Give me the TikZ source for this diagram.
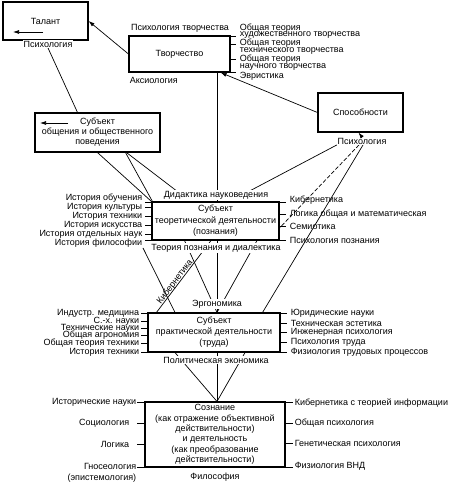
\documentclass[tikz,border=0pt]{standalone}
\usepackage{fontspec}
\setmainfont{Liberation Sans}
\usetikzlibrary{arrows.meta}
\pgfdeclarelayer{background}
\pgfsetlayers{background,main}

\newcommand{\lblfont}{\fontsize{9}{10}\selectfont}

\tikzset{
  box/.style={draw, line width=1.1pt, inner sep=0pt, align=center, font=\lblfont},
  lbl/.style={inner sep=0.6pt, font=\lblfont},
  wlbl/.style={lbl, fill=white},
  link/.style={line width=0.7pt},
  arr/.style={link, -{Latex[length=6pt,width=4pt]}},
  tick/.style={line width=0.8pt},
}

\begin{document}
\begin{tikzpicture}[x=1pt, y=-1pt]
  \useasboundingbox (0,0) rectangle (456,490);

  % Boxes
  \node[box, minimum width=85pt, minimum height=38pt] (talant) at (45.5,21) {Талант};
  \node[box, minimum width=101pt, minimum height=36pt] (tvorch) at (179.5,54) {Творчество};
  \node[box, minimum width=85pt, minimum height=39pt] (sposob) at (360.5,112.5) {Способности};
  \node[box, minimum width=125pt, minimum height=39pt] (obshch) at (97.5,132.5)
    {Субъект\\общения и общественного\\поведения};
  \node[box, minimum width=127pt, minimum height=38pt, font=\fontsize{9}{11.5}\selectfont] (teor) at (215.5,221)
    {Субъект\\теоретической деятельности\\(познания)};
  \node[box, minimum width=132pt, minimum height=39pt, font=\fontsize{9}{11}\selectfont] (prakt) at (214,332.5)
    {Субъект\\практической деятельности\\(труда)};
  \node[box, minimum width=140pt, minimum height=65pt, font=\fontsize{9}{10.4}\selectfont] (soznan) at (215,434.5)
    {Сознание\\(как отражение объективной\\действительности)\\и деятельность\\(как преобразование\\действительности)};

  % Arrows inside boxes
  \coordinate (tal-a) at (43,32);
  \coordinate (tal-b) at (13,32);
  \draw[arr] (tal-a) -- (tal-b);
  \coordinate (obs-a) at (68,123);
  \coordinate (obs-b) at (40,123);
  \draw[arr] (obs-a) -- (obs-b);

  % Labels at the top
  \node[wlbl] (psy-tal) at (48,44) {Психология};
  \node[lbl] (psy-tvo) at (180,28) {Психология творчества};
  \node[lbl, anchor=west] (aksio) at (129,80) {Аксиология};
  \foreach \t/\y [count=\i] in {Общая теория/28, художественного творчества/35,
      Общая теория/43, технического творчества/51, Общая теория/59,
      научного творчества/67, Эвристика/76}
    \node[lbl, anchor=west] (tvo-r\i) at (239,\y) {\t};
  \node[wlbl] (psy-sp) at (362,141) {Психология};

  % Labels of the theoretical subject
  \node[wlbl] (didakt) at (216,195) {Дидактика науковедения};
  \node[wlbl] (teorpozn) at (216,248) {Теория познания и диалектика};
  \foreach \t/\y [count=\i] in {История обучения/198, История культуры/207,
      История техники/216, История искусства/225, История отдельных наук/234,
      История философии/243}
    \node[lbl, anchor=east] (teor-l\i) at (143,\y) {\t};
  \foreach \t/\y [count=\i] in {Кибернетика/200, Логика общая и математическая/214,
      Семиотика/226, Психология познания/240}
    \node[lbl, anchor=west] (teor-r\i) at (289,\y) {\t};

  % Labels of the practical subject
  \node[wlbl] (ergon) at (217,304) {Эргономика};
  \node[lbl, rotate=53] (kibern) at (175,282) {Кибернетика};
  \node[wlbl] (politek) at (216,360) {Политическая экономика};
  \foreach \t/\y [count=\i] in {Индустр. медицина/313, С.-х. науки/321,
      Технические науки/328, Общая агрономия/335, Общая теория техники/343,
      История техники/352}
    \node[lbl, anchor=east] (prakt-l\i) at (140,\y) {\t};
  \foreach \t/\y [count=\i] in {Юридические науки/313, Техническая эстетика/323,
      Инженерная психология/332, Психология труда/342,
      Физиология трудовых процессов/352}
    \node[lbl, anchor=west] (prakt-r\i) at (290,\y) {\t};

  % Labels of consciousness
  \node[lbl] (filos) at (215,477) {Философия};
  \node[lbl, anchor=east] (sozn-l1) at (137,402) {Исторические науки};
  \node[lbl, anchor=east] (sozn-l2) at (130,423) {Социология};
  \node[lbl, anchor=east] (sozn-l3) at (130,444) {Логика};
  \node[lbl, anchor=east] (sozn-l4) at (137,466) {Гносеология};
  \node[lbl, anchor=east] (sozn-l5) at (137,478) {(эпистемология)};
  \foreach \t/\y [count=\i] in {Кибернетика с теорией информации/403,
      Общая психология/423, Генетическая психология/443, Физиология ВНД/466}
    \node[lbl, anchor=west] (sozn-r\i) at (294,\y) {\t};

  % Ticks along the box sides
  \foreach \y in {36,44,59,72}
    \draw[tick] (tvorch.east |- 0,\y) -- ++(5,0);
  \foreach \y in {202,207,216,225,234,240}
    \draw[tick] (teor.west |- 0,\y) -- ++(-6,0);
  \foreach \y in {202,214,226,240}
    \draw[tick] (teor.east |- 0,\y) -- ++(6,0);
  \foreach \y in {313,321,328,335,343,352}
    \draw[tick] (prakt.west |- 0,\y) -- ++(-6,0);
  \foreach \y in {313,323,332,342,352}
    \draw[tick] (prakt.east |- 0,\y) -- ++(6,0);
  \foreach \y in {402,423,444,467}
    \draw[tick] (soznan.west |- 0,\y) -- ++(-7,0);
  \foreach \y in {402,423,443,467}
    \draw[tick] (soznan.east |- 0,\y) -- ++(7,0);

  % Connectors
  \draw[arr] (tvorch.west) -- (talant.east);
  \draw[arr] (sposob.west) -- ([xshift=-10pt]tvorch.south east);
  \draw[arr] (psy-sp.north) -- ([xshift=-2pt]sposob.south);
  \begin{pgfonlayer}{background}
    \draw[link] (psy-tal.south) -- ([xshift=-20pt]obshch.north);
    \draw[link] ([xshift=37.5pt]tvorch.south) -- ([xshift=1.5pt]teor.north);
    \draw[link] (obshch.south) -- (teor.north west);
    \draw[link] ([xshift=28pt]obshch.south) -- ([xshift=1pt]teor.north west);
    \draw[link] ([xshift=29pt]obshch.south) -- ([xshift=-34pt]didakt.center);
    \draw[link] (psy-sp.south west) -- ([xshift=26pt]didakt.center);
    \draw[link, dash pattern=on 4pt off 2pt] ([xshift=-3pt]psy-sp.south) -- (teor.east |- 0,228);
    \draw[link] ([xshift=1pt]psy-sp.south) -- ([xshift=-18pt]prakt.north east);
    % between the two subjects
    \draw[link] ([xshift=-4.5pt]teor.south) -- ([xshift=9pt]prakt.north west);
    \draw[link] (teor-l6.south east) -- ([xshift=-39pt]prakt.north);
    \draw[link] ([xshift=-31pt]teor.south) -- ([xshift=3pt]prakt.north);
    \draw[link] ([xshift=1.5pt]teor.south) -- ([xshift=3pt]prakt.north);
    \draw[link] ([xshift=41.5pt]teor.south) -- ([xshift=3pt]prakt.north);
    % down to consciousness
    \draw[link] ([xshift=-39pt]prakt.south) -- ([xshift=2pt]soznan.north);
    \draw[link] ([xshift=3pt]prakt.south) -- ([xshift=2pt]soznan.north);
    \draw[link] ([xshift=31pt]prakt.south) -- ([xshift=2pt]soznan.north);
  \end{pgfonlayer}
\end{tikzpicture}
\end{document}
